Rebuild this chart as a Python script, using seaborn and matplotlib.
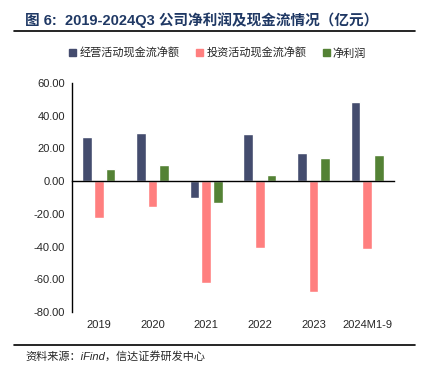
import numpy as np
import pandas as pd
import matplotlib
matplotlib.use("Agg")
import matplotlib.pyplot as plt
import matplotlib.transforms as mtransforms
import seaborn as sns

years = ["2019", "2020", "2021", "2022", "2023", "2024M1-9"]
series_names = ["经营活动现金流净额", "投资活动现金流净额", "净利润"]
operating_cf = [26.8, 29.2, -10.5, 28.8, 17.3, 48.6]
investing_cf = [-22.4, -16.0, -62.2, -40.8, -67.7, -41.2]
net_profit = [7.6, 9.8, -13.5, 4.0, 14.3, 15.7]
colors = ["#444C6E", "#FF7F7F", "#548235"]

sns.set_style("white")
plt.rcParams['font.family'] = ['Liberation Sans', 'Noto Sans CJK SC', 'DejaVu Sans']
plt.rcParams['axes.unicode_minus'] = False

df = pd.DataFrame({
    "年份": years * 3,
    "类别": sum([[n] * len(years) for n in series_names], []),
    "数值": operating_cf + investing_cf + net_profit,
})

fig = plt.figure(figsize=(4.23, 3.69), dpi=100)
ax = fig.add_axes([72 / 423, 1 - 312 / 369, 322 / 423, 229 / 369])

sns.barplot(data=df, x="年份", y="数值", hue="类别", palette=colors,
            width=0.66, gap=0.18, ax=ax, legend=False, saturation=1)

ax.set_ylim(-80, 60)
ax.set_yticks(np.arange(-80, 61, 20))
ax.set_yticklabels([f"{v:.2f}" for v in np.arange(-80, 61, 20)], fontsize=8)
ax.set_xlim(-0.5, len(years) - 0.5)
ax.set_xlabel("")
ax.set_ylabel("")

# x轴放在0位置，刻度在类别分界处
ax.spines['bottom'].set_position(('data', 0))
ax.spines['top'].set_visible(False)
ax.spines['right'].set_visible(False)
for s in ['left', 'bottom']:
    ax.spines[s].set_color('black')
    ax.spines[s].set_linewidth(1.0)
ax.set_xticks(np.arange(-0.5, len(years), 1))
ax.set_xticklabels([])
ax.tick_params(axis='x', direction='out', length=3, width=1, color='black')
ax.tick_params(axis='y', direction='out', length=3, width=1, color='black', pad=2)

trans = mtransforms.blended_transform_factory(ax.transData, ax.transAxes)
for i, y in enumerate(years):
    ax.text(i, -0.035, y, transform=trans, ha='center', va='top', fontsize=8)

# 图例
handles = [plt.Rectangle((0, 0), 1, 1, color=c) for c in colors]
fig.legend(handles, series_names, loc='center', bbox_to_anchor=(0.515, 1 - 53 / 369),
           ncol=3, frameon=False, fontsize=8, handlelength=0.6, handleheight=0.6,
           handletextpad=0.3, columnspacing=1.5)

# 标题与来源
fig.text(25 / 423, 1 - 20 / 369, "图 6:  2019-2024Q3 公司净利润及现金流情况（亿元）",
         fontsize=10.5, fontweight='bold', color='#1F3864', va='center', ha='left')
fig.add_artist(plt.Line2D([14 / 423, 415 / 423], [1 - 31 / 369, 1 - 31 / 369],
                          color='black', linewidth=1.2, transform=fig.transFigure))
fig.add_artist(plt.Line2D([14 / 423, 415 / 423], [1 - 345 / 369, 1 - 345 / 369],
                          color='black', linewidth=1.2, transform=fig.transFigure))
fig.text(25 / 423, 1 - 356 / 369, "资料来源：iFind，信达证券研发中心",
         fontsize=8, style='italic', va='center', ha='left')

fig.savefig("out.png", dpi=100)
